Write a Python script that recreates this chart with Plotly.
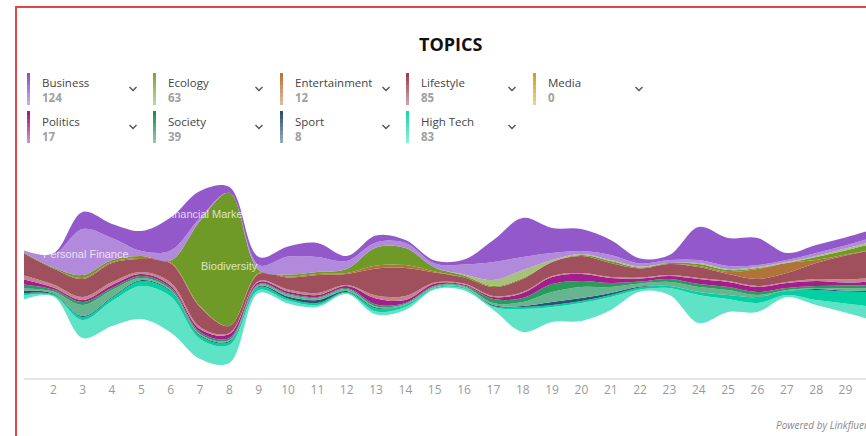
import numpy as np
import plotly.graph_objects as go

# ---------------- data ----------------
days = list(range(1, 31))

# sub-topic layers (top of stream -> bottom)
financial_markets = [0, 1, 17, 14, 20, 33, 27, 6, 8, 10, 14, 5, 7, 3, 3, 5, 22, 39, 25, 22, 15, 5, 5, 33, 28, 27, 7, 8, 8, 8]
personal_finance  = [2, 13, 46, 22, 5, 10, 3, 0, 5, 18, 15, 8, 5, 5, 4, 10, 18, 13, 7, 3, 5, 3, 3, 3, 3, 2, 2, 3, 3, 4]
ecology_other     = [0, 0, 0, 0, 0, 0, 0, 0, 0, 0, 0, 0, 0, 0, 0, 1, 6, 8, 2, 1, 1, 1, 0, 1, 1, 1, 1, 1, 2, 2]
biodiversity      = [1, 1, 3, 2, 2, 2, 85, 133, 3, 2, 2, 4, 18, 17, 4, 2, 1, 1, 0, 1, 2, 1, 1, 2, 2, 1, 0, 3, 4, 6]
entertainment     = [0, 0, 1, 1, 1, 1, 1, 0, 1, 1, 1, 1, 3, 3, 1, 0, 0, 0, 0, 0, 0, 0, 0, 1, 2, 10, 10, 3, 1, 1]
lifestyle_main    = [22, 16, 18, 19, 13, 19, 20, 7, 7, 12, 18, 11, 27, 28, 10, 6, 9, 13, 14, 17, 14, 9, 11, 11, 7, 7, 9, 16, 24, 28]
lifestyle_other   = [4, 3, 3, 3, 2, 3, 2, 1, 1, 2, 2, 1, 3, 4, 1, 1, 1, 1, 1, 1, 1, 1, 1, 1, 1, 1, 1, 2, 3, 3]
media             = [0] * 30
politics          = [5, 2, 2, 3, 2, 2, 3, 4, 2, 2, 2, 2, 6, 3, 2, 1, 2, 5, 7, 7, 5, 3, 3, 5, 5, 5, 5, 5, 3, 4]
society_main      = [4, 2, 3, 2, 2, 2, 2, 2, 1, 1, 1, 1, 2, 1, 1, 1, 4, 4, 8, 6, 4, 2, 3, 3, 3, 3, 2, 2, 3, 3]
society_other     = [2, 2, 11, 7, 2, 1, 1, 1, 1, 2, 2, 2, 1, 1, 1, 1, 2, 4, 10, 11, 6, 3, 4, 5, 5, 2, 1, 1, 2, 3]
sport             = [3, 1, 1, 1, 1, 1, 1, 1, 1, 2, 3, 1, 1, 0, 0, 0, 1, 1, 3, 3, 2, 1, 0, 0, 0, 0, 0, 1, 1, 1]
high_tech_main    = [2, 1, 3, 3, 5, 5, 3, 3, 3, 2, 2, 1, 3, 2, 1, 1, 1, 2, 2, 2, 2, 2, 2, 3, 4, 6, 4, 10, 12, 15]
high_tech_other   = [4, 1, 18, 25, 33, 36, 20, 18, 3, 3, 2, 1, 3, 3, 1, 2, 3, 23, 15, 18, 13, 2, 7, 28, 13, 9, 2, 5, 9, 14]

layer_series = [financial_markets, personal_finance, ecology_other, biodiversity, entertainment,
                lifestyle_main, lifestyle_other, media, politics, society_main, society_other,
                sport, high_tech_main, high_tech_other]
layer_colors = ["#9358CA", "#B28ADB", "#A9C07A", "#6F9A28", "#B0733A",
                "#A0505C", "#C4848C", "#D4A21A", "#A31D8E", "#2A9B5B", "#66B591",
                "#2C5175", "#00D0A2", "#5EE3C6"]

# legend
legend_names  = ["Business", "Ecology", "Entertainment", "Lifestyle", "Media",
                 "Politics", "Society", "Sport", "High Tech"]
legend_counts = [124, 63, 12, 85, 0, 17, 39, 8, 83]
legend_colors = ["#8E4FD0", "#7AAA30", "#B8763A", "#A0404E", "#D4A21A",
                 "#A21A8C", "#1F8E4E", "#2C5175", "#1ED8A8"]

stream_labels = ["Personal Finance", "Financial Markets", "Biodiversity"]
stream_label_pos = [(3.1, 21), (7.3, 61), (8.0, 9)]

tick_days = list(range(2, 30))

# ---------------- geometry helpers ----------------
W, H = 866, 436
L, R, T, B = 24, 0, 150, 58
PW, PH = W - L - R, H - T - B


def px(x):
    return (x - L) / PW


def py(y):
    return (H - B - y) / PH


# ---------------- stream ----------------
arr = np.array(layer_series, dtype=float)
total = arr.sum(axis=0)
base = -total / 2.0

fig = go.Figure()
fig.add_trace(go.Scatter(x=days, y=base, mode="lines",
                         line=dict(width=0, shape="spline", smoothing=1.0),
                         hoverinfo="skip", showlegend=False))
cum = base.copy()
for i in range(len(layer_series) - 1, -1, -1):
    cum = cum + arr[i]
    fig.add_trace(go.Scatter(x=days, y=cum.copy(), mode="lines",
                             line=dict(width=0, shape="spline", smoothing=1.0, color=layer_colors[i]),
                             fill="tonexty", fillcolor=layer_colors[i],
                             hoverinfo="skip", showlegend=False))

annotations = []
shapes = []

# stream labels
for (lx, ly), txt in zip(stream_label_pos, stream_labels):
    annotations.append(dict(x=lx, y=ly, xref="x", yref="y", text=txt, showarrow=False,
                            font=dict(family="Liberation Sans, Arial", size=11,
                                      color="rgba(255,255,255,0.75)")))

# title
annotations.append(dict(x=px(450), y=py(44), xref="paper", yref="paper", text="<b>TOPICS</b>",
                        xanchor="center", yanchor="middle",
                        showarrow=False, font=dict(family="Open Sans", size=18, color="#111111")))

# legend
col_x = [27, 153, 280, 406, 533]
row_y = [73, 111]
for k, (name, cnt, col) in enumerate(zip(legend_names, legend_counts, legend_colors)):
    r, c = divmod(k, 5)
    bx, by = col_x[c], row_y[r]
    nseg = 8
    for s in range(nseg):
        shapes.append(dict(type="rect", xref="paper", yref="paper",
                           x0=px(bx), x1=px(bx + 3),
                           y0=py(by + s * 32 / nseg), y1=py(by + (s + 1) * 32 / nseg),
                           fillcolor=col, opacity=1.0 - 0.5 * s / (nseg - 1), line=dict(width=0)))
    annotations.append(dict(x=px(bx + 13), y=py(by + 17.5), xref="paper", yref="paper",
                            text="<span style='color:#444444'>%s</span><br>"
                                 "<span style='color:#A0A0A0'><b>%d</b></span>" % (name, cnt),
                            xanchor="left", yanchor="middle", align="left", showarrow=False,
                            font=dict(family="Open Sans", size=11.5, color="#444444")))
    cx, cy = bx + 106, by + 16
    shapes.append(dict(type="path", xref="paper", yref="paper",
                       path="M %f,%f L %f,%f L %f,%f" % (px(cx - 3.5), py(cy - 2), px(cx), py(cy + 1.5),
                                                         px(cx + 3.5), py(cy - 2)),
                       line=dict(color="#555555", width=1.4)))

# footer
annotations.append(dict(x=px(774), y=py(425), xref="paper", yref="paper",
                        text="<i>Powered by Linkfluence</i>", xanchor="left", yanchor="middle",
                        showarrow=False, font=dict(family="Open Sans", size=10, color="#8A8A8A")))

# red frame
shapes.append(dict(type="rect", xref="paper", yref="paper",
                   x0=px(16), x1=px(920), y0=py(7), y1=py(480),
                   line=dict(color="#E04848", width=2), fillcolor="rgba(0,0,0,0)"))

fig.update_layout(
    width=W, height=H,
    margin=dict(l=L, r=R, t=T, b=B),
    paper_bgcolor="white", plot_bgcolor="white",
    showlegend=False,
    annotations=annotations,
    shapes=shapes,
    xaxis=dict(range=[1, 29.7], tickvals=tick_days, ticktext=[str(d) for d in tick_days],
               showgrid=False, zeroline=False, showline=True, linecolor="#E6E6E6", linewidth=2,
               ticks="", tickfont=dict(family="Open Sans", size=12, color="#9A9A9A"), fixedrange=True),
    yaxis=dict(range=[-103, 125], showgrid=False, zeroline=False, showticklabels=False,
               showline=False, fixedrange=True),
)

fig.write_html("out.html", config={"displayModeBar": False},
               post_script="document.body.style.margin='0';document.body.style.overflow='hidden';")
